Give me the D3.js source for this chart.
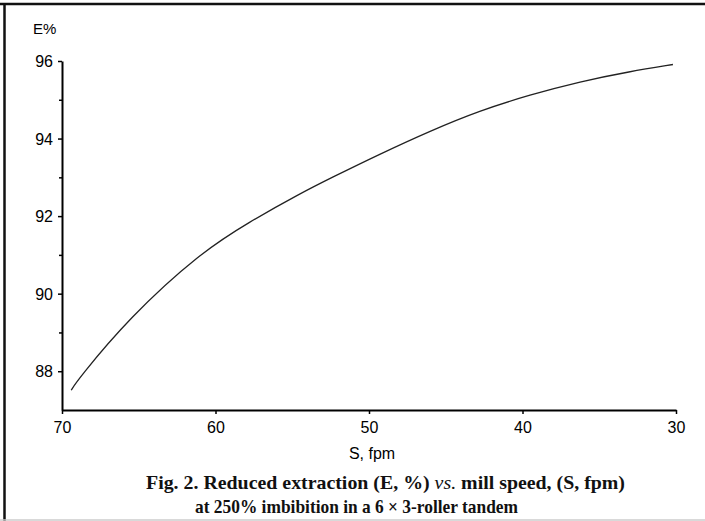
<html>
<head>
<meta charset="utf-8">
<title>Reduced extraction vs. mill speed</title>
<style type="text/css">
    body { margin: 0; background: #fff; }
    .tick text { font-family: "Liberation Sans", Arial, sans-serif; font-size: 16px; fill: #000; }
    .domain { stroke: #000; stroke-width: 2px; }
    .tick line { stroke: #000; stroke-width: 1.5px; }
    .curve { fill: none; stroke: #222; stroke-width: 1.3px; }
    .caption { font-family: "Liberation Serif", "Times New Roman", serif; font-weight: bold; font-size: 19px; fill: #111; }
</style>
</head>
<body>
<script src="https://d3js.org/d3.v7.min.js"></script>
<script>

// speed S (fpm) and reduced extraction E (%)
var speed      = [69.4, 69.0, 65.6, 61.0, 57.8, 54.5, 52.4, 49.3, 46.0, 42.8, 39.5, 36.25, 33.0, 30.2];
var extraction = [87.51, 87.77, 89.39, 91.05, 91.85, 92.58, 93.0, 93.6, 94.2, 94.72, 95.13, 95.47, 95.73, 95.91];

var xTicks = [70, 60, 50, 40, 30];
var yTicks = [88, 90, 92, 94, 96];
var yMinor = [89, 91, 93, 95];

var margin = {top: 61, left: 62},
    width  = 614,
    height = 349;

var svg = d3.select("body")
    .append("svg")
    .attr("width", 705)
    .attr("height", 521);

// frame of the scanned page
svg.append("line").attr("x1", 0).attr("x2", 705).attr("y1", 4).attr("y2", 4)
    .attr("stroke", "#111").attr("stroke-width", 2.5);
svg.append("line").attr("x1", 4.5).attr("x2", 4.5).attr("y1", 4).attr("y2", 521)
    .attr("stroke", "#111").attr("stroke-width", 2.5);
svg.append("line").attr("x1", 0).attr("x2", 705).attr("y1", 520).attr("y2", 520)
    .attr("stroke", "#ccc").attr("stroke-width", 1.5);

var chart = svg.append("g")
    .attr("transform", "translate(" + margin.left + "," + margin.top + ")");

var xScale = d3.scaleLinear().domain([70, 30]).range([0, width]);
var yScale = d3.scaleLinear().domain([87, 96]).range([height, 0]);

var data = speed.map(function(s, i){ return {s: s, e: extraction[i]}; });

chart.append("path")
    .datum(data)
    .attr("class", "curve")
    .attr("d", d3.line()
        .x(function(d){ return xScale(d.s); })
        .y(function(d){ return yScale(d.e); })
        .curve(d3.curveBasis));

// minor ticks on y
chart.append("g")
    .call(d3.axisLeft(yScale).tickValues(yMinor).tickSize(3).tickFormat(""))
    .select(".domain").remove();

// y axis
chart.append("g")
    .call(d3.axisLeft(yScale).tickValues(yTicks).tickSizeInner(4).tickSizeOuter(0).tickPadding(5))
    .selectAll(".tick text").attr("dy", "0.36em");

// x axis
chart.append("g")
    .attr("transform", "translate(0," + height + ")")
    .call(d3.axisBottom(xScale).tickValues(xTicks).tickSizeInner(4).tickSizeOuter(0).tickPadding(8));

svg.append("text")
    .attr("x", 33)
    .attr("y", 34)
    .text("E%")
    .style("font-family", "Liberation Sans, Arial, sans-serif")
    .style("font-size", "15px")
    .style("fill", "#000");

svg.append("text")
    .attr("x", 372)
    .attr("y", 459)
    .attr("text-anchor", "middle")
    .text("S, fpm")
    .style("font-family", "Liberation Sans, Arial, sans-serif")
    .style("font-size", "16px")
    .style("fill", "#000");

svg.append("text")
    .attr("class", "caption")
    .attr("x", 146)
    .attr("y", 489)
    .attr("textLength", 479)
    .attr("lengthAdjust", "spacingAndGlyphs")
    .html("Fig. 2. Reduced extraction (E, %) <tspan font-style='italic' font-weight='normal'>vs.</tspan> mill speed, (S, fpm)");

svg.append("text")
    .attr("class", "caption")
    .attr("x", 195)
    .attr("y", 513)
    .attr("textLength", 323)
    .attr("lengthAdjust", "spacingAndGlyphs")
    .text("at 250% imbibition in a 6 \u00d7 3-roller tandem");

</script>
</body>
</html>
